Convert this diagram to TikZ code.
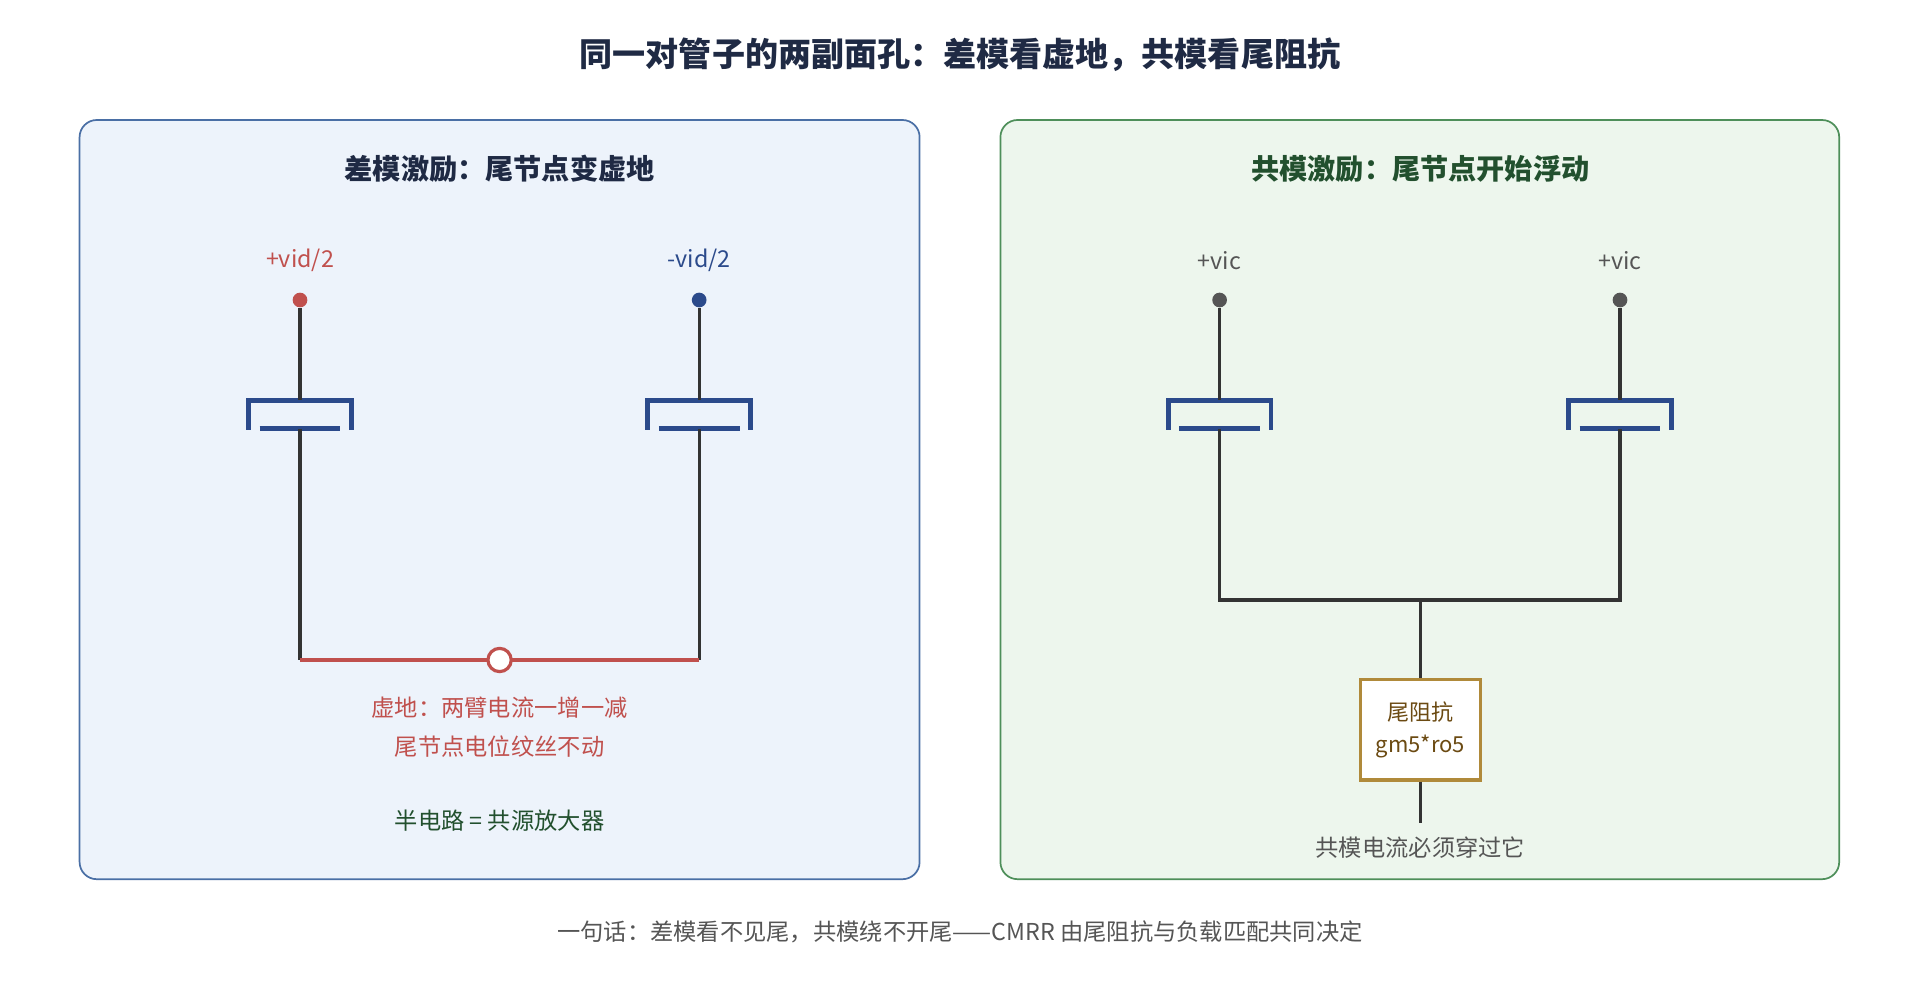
\documentclass[tikz,border=0pt]{standalone}
\usepackage{fontspec}
\setmainfont{Noto Sans CJK SC}
\begin{document}
\begin{tikzpicture}[x=1pt,y=-1pt,
  wire/.style={draw=black!80,line width=2.6pt},
  dot/.style={circle,inner sep=0pt,minimum size=12pt},
  lbl/.style={font=\fontsize{19}{22}\selectfont,inner sep=0pt}]
\definecolor{fetc}{HTML}{2B4A8B}
\definecolor{redc}{HTML}{C0504D}
\definecolor{titc}{HTML}{1F2A44}
\definecolor{grnc}{HTML}{22502E}
\definecolor{brn}{HTML}{B08A3A}
\definecolor{brnt}{HTML}{6B4A12}
\definecolor{gryc}{HTML}{555555}
\definecolor{pbl}{HTML}{4A6FA5}
\definecolor{pblf}{HTML}{EDF3FB}
\definecolor{pgr}{HTML}{4E8F5A}
\definecolor{pgrf}{HTML}{EDF6ED}
\tikzset{fet/.style={draw=fetc,line width=4pt}}
\useasboundingbox (0,0) rectangle (1568,816);
\fill[white] (0,0) rectangle (1568,816);
\node[font=\fontsize{27}{30}\selectfont\bfseries,text=titc] (title) at (784,45) {同一对管子的两副面孔：差模看虚地，共模看尾阻抗};
% panels
\draw[draw=pbl,fill=pblf,line width=1.4pt,rounded corners=14pt] (65,98) rectangle (751,718);
\draw[draw=pgr,fill=pgrf,line width=1.4pt,rounded corners=14pt] (817,98) rectangle (1502,718);
\node[font=\fontsize{23}{26}\selectfont\bfseries,text=titc] (tl) at (408,138) {差模激励：尾节点变虚地};
\node[font=\fontsize{23}{26}\selectfont\bfseries,text=grnc] (tr) at (1160,138) {共模激励：尾节点开始浮动};
% inputs
\node[lbl,text=redc] (la) at (245,213) {+vid/2};
\node[lbl,text=fetc] (lb) at (571,213) {-vid/2};
\node[dot,fill=redc] (d1) at (245,245) {};
\node[dot,fill=fetc] (d2) at (571,245) {};
\node[dot,fill=gryc] (d3) at (996,245) {};
\node[dot,fill=gryc] (d4) at (1323,245) {};
\node[lbl,text=gryc] (ra) at (996,213) {+vic};
\node[lbl,text=gryc] (rb) at (1323,213) {+vic};
% transistors
\foreach \n/\x in {t1/245,t2/571,t3/996,t4/1323}{
  \coordinate (\n g) at (\x,327);
  \coordinate (\n s) at (\x,350);
  \draw[fet] (\x-42,351) -- (\x-42,327) -- (\x+42,327) -- (\x+42,351);
  \draw[fet] (\x-33,350) -- (\x+33,350);
}
\draw[wire] (d1) -- (t1g); \draw[wire] (d2) -- (t2g);
\draw[wire] (d3) -- (t3g); \draw[wire] (d4) -- (t4g);
% left tail
\coordinate (lbl1) at (245,539); \coordinate (lbr) at (571,539);
\draw[wire] (t1s) -- (lbl1); \draw[wire] (t2s) -- (lbr);
\draw[draw=redc,line width=3.5pt] (lbl1) -- (lbr);
\node[circle,draw=redc,fill=white,line width=2.6pt,minimum size=19pt,inner sep=0pt] (vg) at (408,539) {};
\node[lbl,text=redc] (v1) at (408,578) {虚地：两臂电流一增一减};
\node[lbl,text=redc] (v2) at (408,610) {尾节点电位纹丝不动};
\node[lbl,text=grnc] (half) at (408,670) {半电路 = 共源放大器};
% right tail
\coordinate (rl) at (996,490); \coordinate (rr) at (1323,490); \coordinate (rm) at (1160,490);
\draw[wire] (t3s) -- (rl) -- (rr) -- (t4s);
\node[draw=brn,fill=white,line width=2.6pt,minimum width=98pt,minimum height=82pt,inner sep=0pt,align=center,text=brnt,font=\fontsize{18}{26}\selectfont] (tail) at (1160,596) {尾阻抗\\gm5*ro5};
\draw[wire] (rm) -- (tail.north);
\coordinate (gnd) at (1160,672);
\draw[wire] (tail.south) -- (gnd);
\node[lbl,text=gryc] (cm) at (1160,692) {共模电流必须穿过它};
\node[lbl,text=gryc] (foot) at (784,761) {一句话：差模看不见尾，共模绕不开尾——CMRR 由尾阻抗与负载匹配共同决定};
\end{tikzpicture}
\end{document}
